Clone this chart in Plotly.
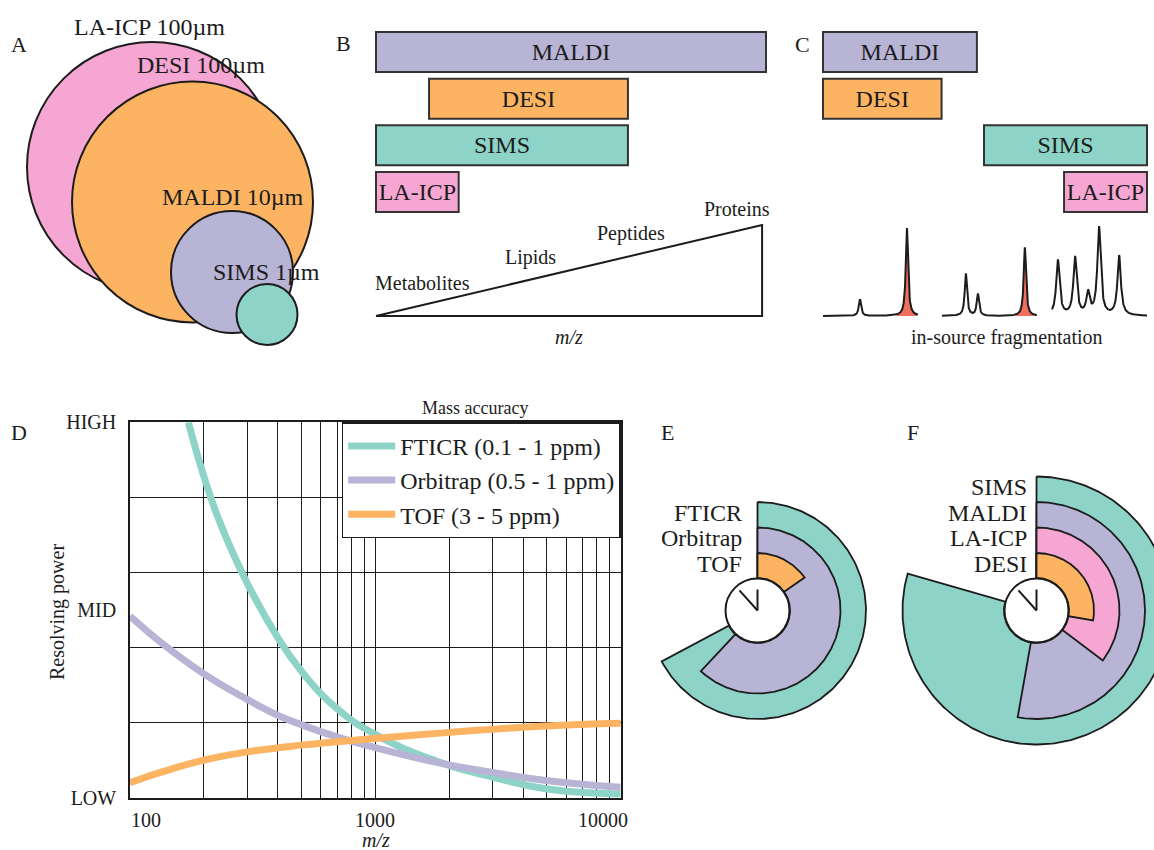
import numpy as np
import plotly.graph_objects as go

W, H = 1154, 850
FONT = "Liberation Serif"
INK = "#1c1c1c"

TEAL = "#8DD3C7"
PURPLE = "#B8B4D6"
ORANGE = "#FCB462"
PINK = "#F6A6D2"
SALMON = "#F07060"

# ---------------- data ----------------
# A: lateral resolution of each ionisation technique
spot_labels = ["LA-ICP 100µm", "DESI 100µm", "MALDI 10µm", "SIMS 1µm"]
spot_colors = [PINK, ORANGE, PURPLE, TEAL]

# B: accessible mass range (fraction of the m/z scale)
range_techniques = ["MALDI", "DESI", "SIMS", "LA-ICP"]
range_colors = [PURPLE, ORANGE, TEAL, PINK]
mass_range_start = [0.0, 0.136, 0.0, 0.0]
mass_range_end = [1.0, 0.646, 0.646, 0.212]
analyte_classes = ["Metabolites", "Lipids", "Peptides", "Proteins"]
analyte_positions = [0.12, 0.395, 0.654, 0.926]

# C: degree of in-source fragmentation
frag_start = [0.0, 0.0, 0.497, 0.744]
frag_end = [0.475, 0.366, 1.0, 1.0]
spectrum_windows = [(0.0, 0.293), (0.367, 0.660), (0.707, 1.0)]
peak_positions = [[0.114, 0.259], [0.441, 0.478, 0.623],
                  [0.725, 0.778, 0.818, 0.852, 0.914]]
peak_heights = [[0.19, 1.0], [0.48, 0.25, 0.78],
                [0.63, 0.66, 0.25, 1.0, 0.68]]
precursor_index = [1, 2, None]

# D: resolving power versus m/z
analyzers = ["FTICR", "Orbitrap", "TOF"]
accuracy = ["0.1 - 1 ppm", "0.5 - 1 ppm", "3 - 5 ppm"]
fticr_mz = [173, 200, 233, 300, 399, 501, 696, 990, 1834, 2958, 4943, 10000]
fticr_rp = [5.0, 4.28, 3.66, 2.86, 2.14, 1.68, 1.19, 0.85, 0.47, 0.28, 0.12, 0.05]
orbitrap_mz = [100, 137, 200, 300, 399, 501, 696, 990, 1834, 2958, 4943, 10000]
orbitrap_rp = [2.42, 2.04, 1.65, 1.31, 1.10, 0.97, 0.81, 0.67, 0.46, 0.34, 0.23, 0.14]
tof_mz = [100, 137, 200, 300, 501, 990, 1834, 2958, 4943, 10000]
tof_rp = [0.20, 0.35, 0.50, 0.61, 0.70, 0.79, 0.86, 0.91, 0.955, 0.99]
rp_tick_vals = [0, 2.5, 5]
rp_tick_text = ["LOW", "MID", "HIGH"]
mz_tick_vals = [100, 1000, 10000]

# E, F: acquisition speed (clock sweep, degrees), outermost ring first
speed_e_names = ["FTICR", "Orbitrap", "TOF"]
speed_e_colors = [TEAL, PURPLE, ORANGE]
speed_e_deg = [242, 223, 55]
speed_f_names = ["SIMS", "MALDI", "LA-ICP", "DESI"]
speed_f_colors = [TEAL, PURPLE, PINK, ORANGE]
speed_f_deg = [286, 190, 127, 100]

# ---------------- geometry helpers ----------------
def dom_x(a, b):
    return [a / W, b / W]


def dom_y(top, bottom):
    return [1 - bottom / H, 1 - top / H]


hidden = dict(visible=False, showgrid=False, zeroline=False, fixedrange=True,
              automargin=False)

fig = go.Figure()
annotations = []
shapes = []


def note(text, x, y, size=24, xanchor="center", yanchor="middle", **kw):
    annotations.append(dict(text=text, x=x, y=y, xref="x2", yref="y2",
                            showarrow=False, xanchor=xanchor, yanchor=yanchor,
                            font=dict(family=FONT, size=size, color=INK), **kw))


# ---------------- A: spot size circles ----------------
spot_geom = [(152, 167, 125), (192.5, 202, 120.5), (232, 272, 61), (267, 314.5, 30.5)]
spot_label_pos = [(149, 27), (201, 65), (232, 197), (266, 272)]
for (cx, cy, r), col in zip(spot_geom, spot_colors):
    shapes.append(dict(type="circle", xref="x2", yref="y2",
                       x0=cx - r, x1=cx + r, y0=cy - r, y1=cy + r,
                       fillcolor=col, line=dict(color=INK, width=2)))
for lab, (lx, ly) in zip(spot_labels, spot_label_pos):
    note(lab, lx, ly, size=24)

# ---------------- B: mass range bars ----------------
bar_width = 40 / 46.67
fig.add_trace(go.Bar(
    orientation="h", y=range_techniques,
    x=[e - s for s, e in zip(mass_range_start, mass_range_end)],
    base=mass_range_start, width=bar_width,
    marker=dict(color=range_colors, line=dict(color="#333333", width=2)),
    text=range_techniques, textposition="inside", insidetextanchor="middle",
    textangle=0, constraintext="none",
    textfont=dict(family=FONT, size=24, color=INK),
    xaxis="x3", yaxis="y3", showlegend=False, hoverinfo="skip"))

ramp_end = 0.99
fig.add_trace(go.Scatter(
    x=[0, ramp_end, ramp_end, 0], y=[0, 1, 0, 0], mode="lines",
    fill="toself", fillcolor="white", line=dict(color=INK, width=2),
    xaxis="x3", yaxis="y4", showlegend=False, hoverinfo="skip"))
for name, pos in zip(analyte_classes, analyte_positions):
    annotations.append(dict(text=name, x=pos, y=pos / ramp_end, xref="x3", yref="y4",
                            showarrow=False, yshift=22,
                            font=dict(family=FONT, size=20, color=INK)))
note("<i>m/z</i>", 569, 337, size=20)

# ---------------- C: fragmentation bars + spectra ----------------
fig.add_trace(go.Bar(
    orientation="h", y=range_techniques,
    x=[e - s for s, e in zip(frag_start, frag_end)],
    base=frag_start, width=bar_width,
    marker=dict(color=range_colors, line=dict(color="#333333", width=2)),
    text=range_techniques, textposition="inside", insidetextanchor="middle",
    textangle=0, constraintext="none",
    textfont=dict(family=FONT, size=24, color=INK),
    xaxis="x4", yaxis="y5", showlegend=False, hoverinfo="skip"))

peak_gamma = [0.0042, 0.0042, 0.0062]


def lorentz(x, x0, h, g):
    return h * g ** 2 / ((x - x0) ** 2 + g ** 2)


for k, (lo, hi) in enumerate(spectrum_windows):
    xs = np.linspace(lo, hi, 900)
    g = peak_gamma[k]
    ys = np.zeros_like(xs)
    for p, h in zip(peak_positions[k], peak_heights[k]):
        ys = ys + lorentz(xs, p, h, g)
    pi = precursor_index[k]
    if pi is not None:
        p, h = peak_positions[k][pi], peak_heights[k][pi]
        m = np.abs(xs - p) < 0.03
        fig.add_trace(go.Scatter(
            x=xs[m], y=lorentz(xs[m], p, h, g), mode="lines", fill="tozeroy",
            fillcolor=SALMON, line=dict(width=0), xaxis="x4", yaxis="y6",
            showlegend=False, hoverinfo="skip"))
    fig.add_trace(go.Scatter(
        x=xs, y=ys, mode="lines", line=dict(color=INK, width=2),
        xaxis="x4", yaxis="y6", showlegend=False, hoverinfo="skip"))
note("in-source fragmentation", 1007, 337, size=20)

# ---------------- D: resolving power ----------------
curves = [(fticr_mz, fticr_rp, TEAL), (orbitrap_mz, orbitrap_rp, PURPLE),
          (tof_mz, tof_rp, ORANGE)]
for name, acc, (mz, rp, col) in zip(analyzers, accuracy, curves):
    fig.add_trace(go.Scatter(
        x=mz, y=rp, mode="lines", name=f"{name} ({acc})", legendgroup=name,
        line=dict(color=col, width=7, shape="spline", smoothing=1.3),
        xaxis="x", yaxis="y", hoverinfo="skip"))

grid_mz = [m * 10 ** e for e in (2, 3) for m in range(1, 10)] + [10000]
D_LEFT, D_RIGHT, D_TOP, D_BOTTOM = 130, 620.7, 422.3, 797.7
tick_shift = [16, 0, -18]
for v, sh in zip(mz_tick_vals, tick_shift):
    annotations.append(dict(text=str(v), x=np.log10(v), xref="x",
                            y=1 - D_BOTTOM / H, yref="paper", yanchor="top",
                            yshift=-9, xshift=sh, showarrow=False,
                            font=dict(family=FONT, size=20, color=INK)))
note("<i>m/z</i>", 376, 840, size=20)
note("Resolving power", 57, 612, size=20, textangle=-90)
note("Mass accuracy", 475, 408, size=18)

# ---------------- E, F: speed clocks ----------------
HOLE_R = 32
RING_STEP = 25.5
E_CENTER = (757.5, 610.5)
F_CENTER = (1036.5, 610.5)


def wedge(cx, cy, r_in, r_out, sweep):
    t = np.radians(np.linspace(0, sweep, 240))
    xo, yo = cx + r_out * np.sin(t), cy - r_out * np.cos(t)
    ti = t[::-1]
    xi, yi = cx + r_in * np.sin(ti), cy - r_in * np.cos(ti)
    return (np.concatenate([xo, xi, xo[:1]]), np.concatenate([yo, yi, yo[:1]]))


def clock(names, colors, sweeps, center, label_gap):
    cx, cy = center
    n = len(names)
    for j, (nm, col, sw) in enumerate(zip(names, colors, sweeps)):
        ring = n - 1 - j
        r_out = HOLE_R + (ring + 1) * RING_STEP
        wx, wy = wedge(cx, cy, HOLE_R + 0.5, r_out, sw)
        fig.add_trace(go.Scatter(
            x=wx, y=wy, mode="lines", fill="toself", fillcolor=col,
            line=dict(color=INK, width=1.8), xaxis="x2", yaxis="y2",
            showlegend=False, hoverinfo="skip"))
        note(nm, cx - label_gap, cy - (HOLE_R + (ring + 0.5) * RING_STEP) - 2,
             size=24, xanchor="right")
    shapes.append(dict(type="circle", xref="x2", yref="y2",
                       x0=cx - HOLE_R, x1=cx + HOLE_R, y0=cy - HOLE_R, y1=cy + HOLE_R,
                       fillcolor="white", line=dict(color=INK, width=2)))
    shapes.append(dict(type="line", xref="x2", yref="y2", x0=cx, y0=cy,
                       x1=cx, y1=cy - 21, line=dict(color=INK, width=2)))
    a = np.radians(42)
    shapes.append(dict(type="line", xref="x2", yref="y2", x0=cx, y0=cy,
                       x1=cx - 27 * np.sin(a), y1=cy - 27 * np.cos(a),
                       line=dict(color=INK, width=2)))


clock(speed_e_names, speed_e_colors, speed_e_deg, E_CENTER, 14)
clock(speed_f_names, speed_f_colors, speed_f_deg, F_CENTER, 8)

# ---------------- panel letters ----------------
for letter, (lx, ly) in zip("ABCDEF", [(19, 44), (343, 43), (802, 44),
                                       (19, 432), (667, 432), (913, 432)]):
    note(letter, lx, ly, size=22)

# ---------------- layout ----------------
fig.update_layout(
    width=W, height=H,
    margin=dict(l=0, r=0, t=0, b=0, pad=0, autoexpand=False),
    paper_bgcolor="white", plot_bgcolor="rgba(0,0,0,0)",
    font=dict(family=FONT, color=INK),
    annotations=annotations, shapes=shapes,
    xaxis=dict(type="log", range=[2, 4], domain=dom_x(D_LEFT, D_RIGHT), anchor="y",
               tickmode="array", tickvals=grid_mz, showticklabels=False, ticks="",
               showgrid=True, gridcolor=INK, gridwidth=1.4, zeroline=False,
               automargin=False,
               showline=True, mirror=True, linecolor=INK, linewidth=1.6),
    yaxis=dict(range=[0, 5], domain=dom_y(D_TOP, D_BOTTOM), anchor="x",
               tickmode="array", tickvals=rp_tick_vals, ticktext=rp_tick_text,
               tickfont=dict(family=FONT, size=20, color=INK), ticks="",
               ticklabelstandoff=8, showgrid=False, zeroline=False,
               automargin=False,
               minor=dict(tickmode="array", tickvals=[0, 1, 2, 3, 4, 5],
                          showgrid=True, gridcolor=INK, gridwidth=1.4, ticks=""),
               showline=True, mirror=True, linecolor=INK, linewidth=1.6),
    xaxis2=dict(hidden, domain=[0, 1], range=[0, W], anchor="y2"),
    yaxis2=dict(hidden, domain=[0, 1], range=[H, 0], anchor="x2"),
    xaxis3=dict(hidden, domain=dom_x(376 - 3.9, 766 + 3.9), range=[-0.01, 1.01], anchor="y3"),
    yaxis3=dict(hidden, domain=dom_y(28.7, 215.3), type="category",
                categoryorder="array", categoryarray=range_techniques,
                range=[3.5, -0.5], anchor="x3"),
    yaxis4=dict(hidden, domain=dom_y(225 - 2.73, 316 + 2.73), range=[-0.03, 1.03], anchor="x3"),
    xaxis4=dict(hidden, domain=dom_x(823 - 3.24, 1147 + 3.24), range=[-0.01, 1.01], anchor="y5"),
    yaxis5=dict(hidden, domain=dom_y(28.7, 215.3), type="category",
                categoryorder="array", categoryarray=range_techniques,
                range=[3.5, -0.5], anchor="x4"),
    yaxis6=dict(hidden, domain=dom_y(223.6, 320.4), range=[-0.05, 1.05], anchor="x4"),
    legend=dict(x=D_RIGHT / W, xanchor="right", y=1 - D_TOP / H, yanchor="top",
                bgcolor="white", bordercolor=INK, borderwidth=1.5,
                font=dict(family=FONT, size=24, color=INK), itemwidth=47,
                tracegroupgap=0, traceorder="grouped"),
    showlegend=True,
)

fig.write_html("out.html")
